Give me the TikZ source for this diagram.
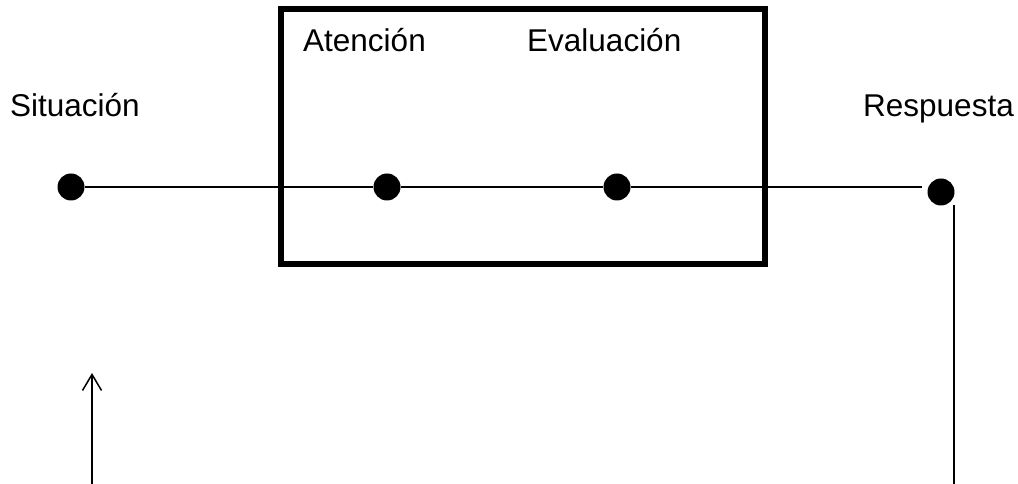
\documentclass[tikz,border=0pt]{standalone}
\usepackage{fontspec}
\setmainfont{Liberation Sans}
\usetikzlibrary{arrows.meta}
\begin{document}
\begin{tikzpicture}[x=1pt,y=1pt,
  dot/.style={circle,fill=black,inner sep=0pt,minimum size=27pt},
  lbl/.style={anchor=base west,inner sep=0pt,font=\fontsize{31.5}{37}\selectfont},
  conn/.style={line width=1.5pt,black}]
\useasboundingbox (0,0) rectangle (1018,484);
% labels
\node[lbl] (tsit) at (10,367) {Situación};
\node[lbl] (tres) at (863,367) {Respuesta};
\node[lbl] (tate) at (303,432) {Atención};
\node[lbl] (teva) at (527,432) {Evaluación};
% box
\node[draw,line width=5.5pt,minimum width=484pt,minimum height=255pt,inner sep=0pt] (box) at (523,347.5) {};
% dots
\node[dot] (s) at (71,297) {};
\node[dot] (a) at (387,297) {};
\node[dot] (e) at (617,297) {};
\node[dot] (r) at (941,292) {};
\coordinate (rend) at (922,297);
\coordinate (rtop) at (954,279);
\coordinate (rbot) at (954,0);
\coordinate (lbot) at (92,0);
\coordinate (ltip) at (92,111);
% connectors
\draw[conn] (s) -- (a) -- (e) -- (rend);
\draw[conn] (rtop) -- (rbot);
\draw[conn,-{Straight Barb[length=16pt,width=19pt,line width=1.5pt]}] (lbot) -- (ltip);
\end{tikzpicture}
\end{document}
